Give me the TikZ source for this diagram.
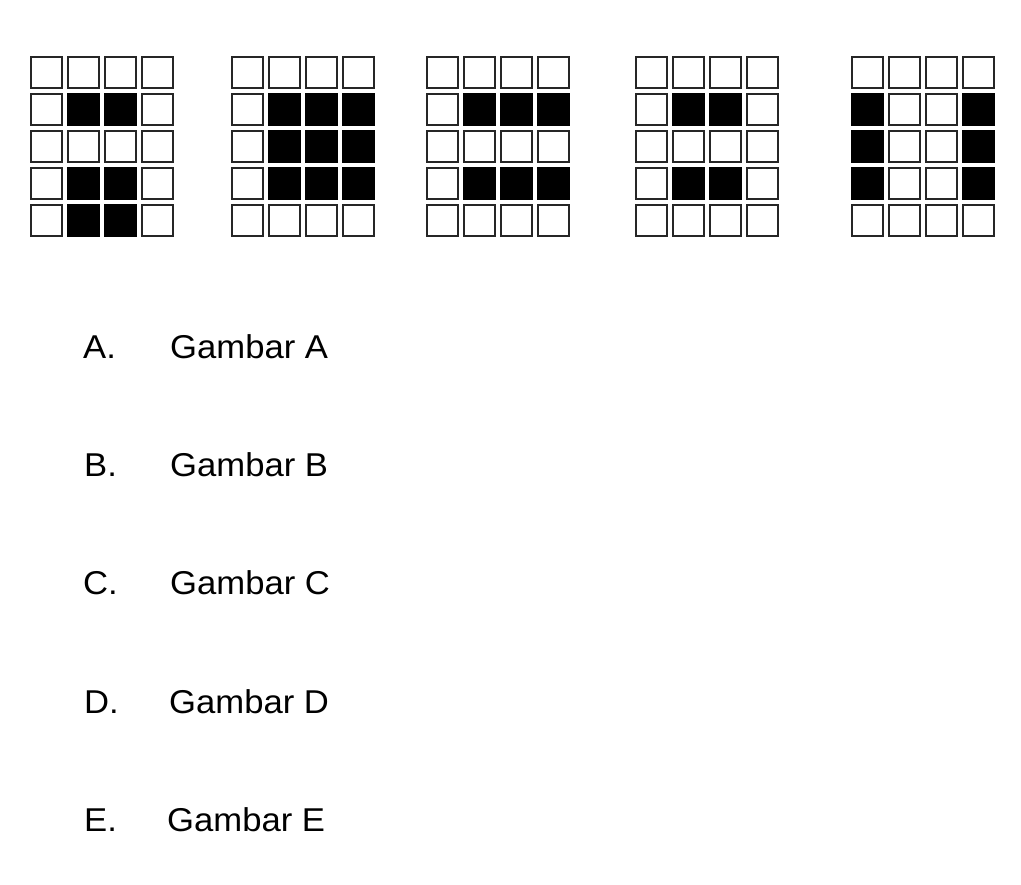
\documentclass[tikz,border=0pt]{standalone}
\usepackage{fontspec}
\setmainfont[FakeStretch=1.05]{Liberation Sans}
\begin{document}
\begin{tikzpicture}[x=1pt,y=-1pt,
  cell/.style={draw=black!85,line width=2pt,minimum size=31pt,inner sep=0pt,fill=white},
  dark/.style={cell,fill=black,draw=black},
  lbl/.style={anchor=base west,inner sep=0pt,font=\fontsize{33}{38}\selectfont}]
\useasboundingbox[fill=white] (0,0) rectangle (1021,885);
% empty grids
\foreach \g/\x in {1/30,2/231,3/426,4/635,5/851}{
  \foreach \r in {0,...,4}{
    \foreach \c in {0,...,3}{
      \node[cell] (g\g-\r-\c) at ({\x+16.5+\c*37},{56.5+16.5+\r*37}) {};
    }
  }
}
% filled cells
\foreach \r/\c in {1/1,1/2,3/1,3/2,4/1,4/2}{\node[dark] (f1-\r-\c) at (g1-\r-\c) {};}
\foreach \r/\c in {1/1,1/2,1/3,2/1,2/2,2/3,3/1,3/2,3/3}{\node[dark] (f2-\r-\c) at (g2-\r-\c) {};}
\foreach \r/\c in {1/1,1/2,1/3,3/1,3/2,3/3}{\node[dark] (f3-\r-\c) at (g3-\r-\c) {};}
\foreach \r/\c in {1/1,1/2,3/1,3/2}{\node[dark] (f4-\r-\c) at (g4-\r-\c) {};}
\foreach \r/\c in {1/0,2/0,3/0,1/3,2/3,3/3}{\node[dark] (f5-\r-\c) at (g5-\r-\c) {};}
% answer options
\node[lbl] (la) at (83,359) {A.};
\node[lbl] (ta) at (170,359) {Gambar A};
\node[lbl] (lb) at (84,477) {B.};
\node[lbl] (tb) at (170,477) {Gambar B};
\node[lbl] (lc) at (83,594) {C.};
\node[lbl] (tc) at (170,594) {Gambar C};
\node[lbl] (ld) at (84,713) {D.};
\node[lbl] (td) at (169,713) {Gambar D};
\node[lbl] (le) at (84,831) {E.};
\node[lbl] (te) at (167,831) {Gambar E};
\end{tikzpicture}
\end{document}
